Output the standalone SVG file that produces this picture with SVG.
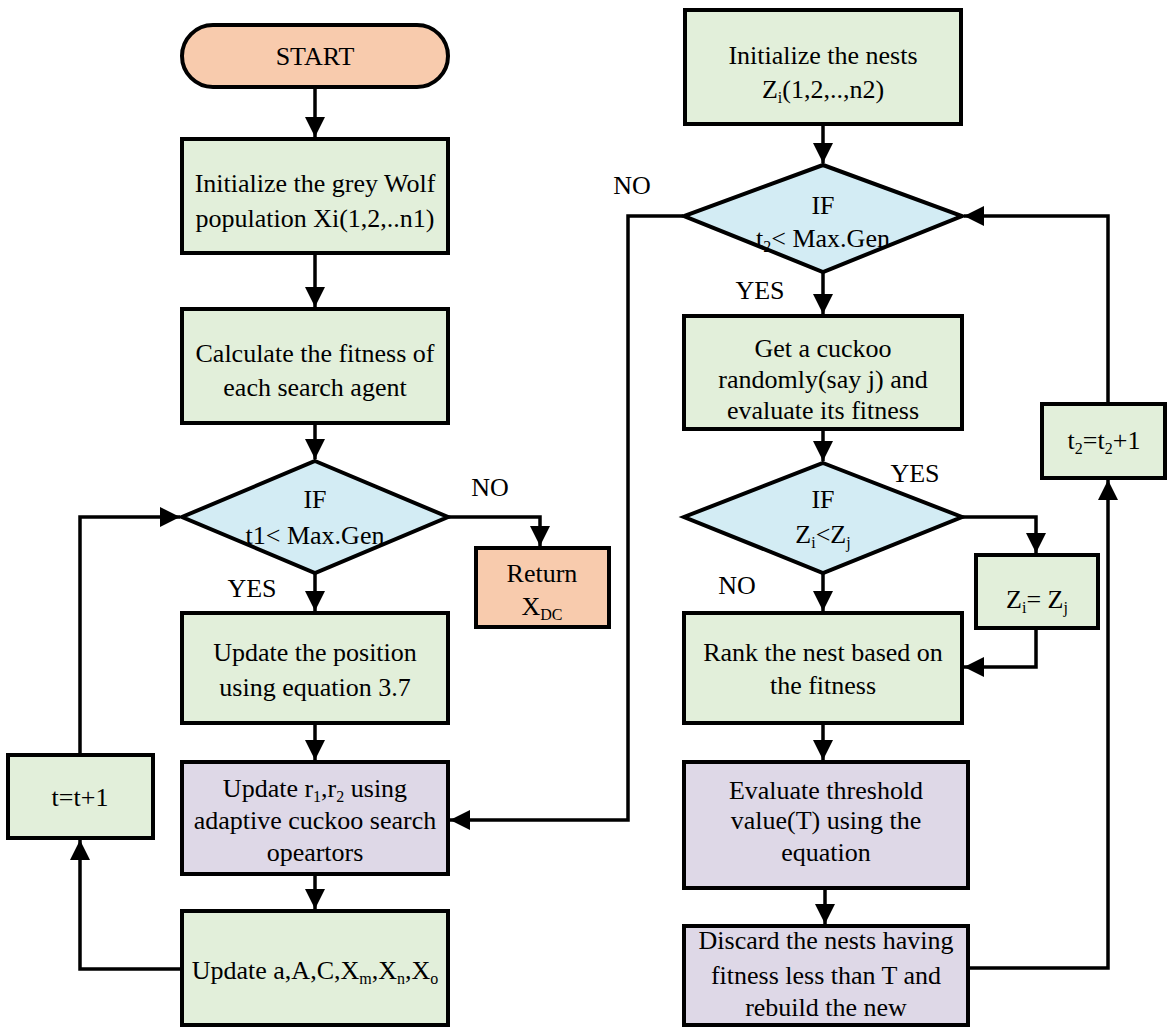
<svg xmlns="http://www.w3.org/2000/svg" width="1167" height="1028" viewBox="0 0 1167 1028">
<defs>
<style>
.g{fill:#e2efda;stroke:#000;stroke-width:4}
.o{fill:#f8cbad;stroke:#000;stroke-width:4}
.b{fill:#d3ecf4;stroke:#000;stroke-width:4}
.p{fill:#ded8e7;stroke:#000;stroke-width:4}
text{font-family:"Liberation Serif","Times New Roman",serif;font-size:26px;fill:#000;text-anchor:middle}
.s{font-size:16px}
.c{fill:none;stroke:#000;stroke-width:3.5}
</style>
<marker id="ah" markerUnits="userSpaceOnUse" markerWidth="20" markerHeight="20" viewBox="0 0 20 20" refX="20" refY="10" orient="auto">
<path d="M0,0 L20,10 L0,20 Z" fill="#000"/>
</marker>
</defs>

<g id="connectors">
<path class="c" d="M315,87 V137" marker-end="url(#ah)"/>
<path class="c" d="M315,253 V307" marker-end="url(#ah)"/>
<path class="c" d="M315,423 V459" marker-end="url(#ah)"/>
<path class="c" d="M448,517 H540 V546" marker-end="url(#ah)"/>
<path class="c" d="M315,573 V611" marker-end="url(#ah)"/>
<path class="c" d="M315,723 V760" marker-end="url(#ah)"/>
<path class="c" d="M315,874 V909" marker-end="url(#ah)"/>
<path class="c" d="M182,969 H80 V840" marker-end="url(#ah)"/>
<path class="c" d="M80,755 V517 H180" marker-end="url(#ah)"/>
<path class="c" d="M823,124 V163" marker-end="url(#ah)"/>
<path class="c" d="M683,216 H628 V820 H450" marker-end="url(#ah)"/>
<path class="c" d="M823,272 V314" marker-end="url(#ah)"/>
<path class="c" d="M823,429 V461" marker-end="url(#ah)"/>
<path class="c" d="M962,517 H1036 V553" marker-end="url(#ah)"/>
<path class="c" d="M823,573 V611" marker-end="url(#ah)"/>
<path class="c" d="M1036,628 V667 H964" marker-end="url(#ah)"/>
<path class="c" d="M823,723 V760" marker-end="url(#ah)"/>
<path class="c" d="M825,888 V924" marker-end="url(#ah)"/>
<path class="c" d="M968,968 H1108 V480" marker-end="url(#ah)"/>
<path class="c" d="M1108,404 V216 H964" marker-end="url(#ah)"/>
</g>

<g id="start">
<rect class="o" x="182" y="25" width="266" height="62" rx="31"/>
<text x="315" y="65">START</text>
</g>
<g id="init-wolf">
<rect class="g" x="182" y="139" width="266" height="114"/>
<text x="315" y="192">Initialize the grey Wolf</text>
<text x="315" y="227">population Xi(1,2,..n1)</text>
</g>
<g id="calc-fitness">
<rect class="g" x="182" y="309" width="266" height="114"/>
<text x="315" y="362">Calculate the fitness of</text>
<text x="315" y="396">each search agent</text>
</g>
<g id="if-t1">
<polygon class="b" points="315,461 448,517 315,573 182,517"/>
<text x="315" y="508">IF</text>
<text x="315" y="544">t1&lt; Max.Gen</text>
</g>
<g id="return">
<rect class="o" x="476" y="548" width="133" height="79"/>
<text x="542" y="582">Return</text>
<text x="542" y="615">X<tspan class="s" dy="5">DC</tspan></text>
</g>
<g id="update-position">
<rect class="g" x="182" y="613" width="266" height="110"/>
<text x="315" y="661">Update the position</text>
<text x="315" y="696">using equation 3.7</text>
</g>
<g id="update-r">
<rect class="p" x="182" y="762" width="266" height="112"/>
<text x="315" y="797">Update r<tspan class="s" dy="5">1</tspan><tspan dy="-5">,r</tspan><tspan class="s" dy="5">2</tspan><tspan dy="-5"> using</tspan></text>
<text x="315" y="829">adaptive cuckoo search</text>
<text x="315" y="861">opeartors</text>
</g>
<g id="update-a">
<rect class="g" x="182" y="911" width="266" height="114"/>
<text x="315" y="979">Update a,A,C,X<tspan class="s" dy="5">m</tspan><tspan dy="-5">,X</tspan><tspan class="s" dy="5">n</tspan><tspan dy="-5">,X</tspan><tspan class="s" dy="5">o</tspan></text>
</g>
<g id="t-inc">
<rect class="g" x="8" y="755" width="145" height="83"/>
<text x="80" y="806">t=t+1</text>
</g>

<g id="init-nests">
<rect class="g" x="685" y="10" width="276" height="114"/>
<text x="823" y="64">Initialize the nests</text>
<text x="823" y="98">Z<tspan class="s" dy="5">i</tspan><tspan dy="-5">(1,2,..,n2)</tspan></text>
</g>
<g id="if-t2">
<polygon class="b" points="823,165 962,216 823,272 684,216"/>
<text x="823" y="214">IF</text>
<text x="823" y="247">t<tspan class="s" dy="5">2</tspan><tspan dy="-5">&lt; Max.Gen</tspan></text>
</g>
<g id="get-cuckoo">
<rect class="g" x="684" y="316" width="278" height="113"/>
<text x="823" y="357">Get a cuckoo</text>
<text x="823" y="388">randomly(say j) and</text>
<text x="823" y="419">evaluate its fitness</text>
</g>
<g id="if-z">
<polygon class="b" points="823,463 962,517 823,573 684,517"/>
<text x="823" y="508">IF</text>
<text x="823" y="543">Z<tspan class="s" dy="5">i</tspan><tspan dy="-5">&lt;Z</tspan><tspan class="s" dy="5">j</tspan></text>
</g>
<g id="z-assign">
<rect class="g" x="976" y="555" width="122" height="73"/>
<text x="1037" y="608">Z<tspan class="s" dy="5">i</tspan><tspan dy="-5">= Z</tspan><tspan class="s" dy="5">j</tspan></text>
</g>
<g id="rank">
<rect class="g" x="684" y="613" width="278" height="110"/>
<text x="823" y="661">Rank the nest based on</text>
<text x="823" y="694">the fitness</text>
</g>
<g id="threshold">
<rect class="p" x="684" y="762" width="284" height="126"/>
<text x="826" y="799">Evaluate threshold</text>
<text x="826" y="829">value(T) using the</text>
<text x="826" y="861">equation</text>
</g>
<g id="discard">
<rect class="p" x="684" y="926" width="284" height="99"/>
<text x="826" y="949">Discard the nests having</text>
<text x="826" y="984">fitness less than T and</text>
<text x="826" y="1016">rebuild the new</text>
</g>
<g id="t2-inc">
<rect class="g" x="1042" y="404" width="123" height="74"/>
<text x="1104" y="449">t<tspan class="s" dy="5">2</tspan><tspan dy="-5">=t</tspan><tspan class="s" dy="5">2</tspan><tspan dy="-5">+1</tspan></text>
</g>

<g id="labels">
<text x="490" y="496">NO</text>
<text x="252" y="597">YES</text>
<text x="632" y="194">NO</text>
<text x="760" y="299">YES</text>
<text x="915" y="482">YES</text>
<text x="737" y="594">NO</text>
</g>
</svg>
